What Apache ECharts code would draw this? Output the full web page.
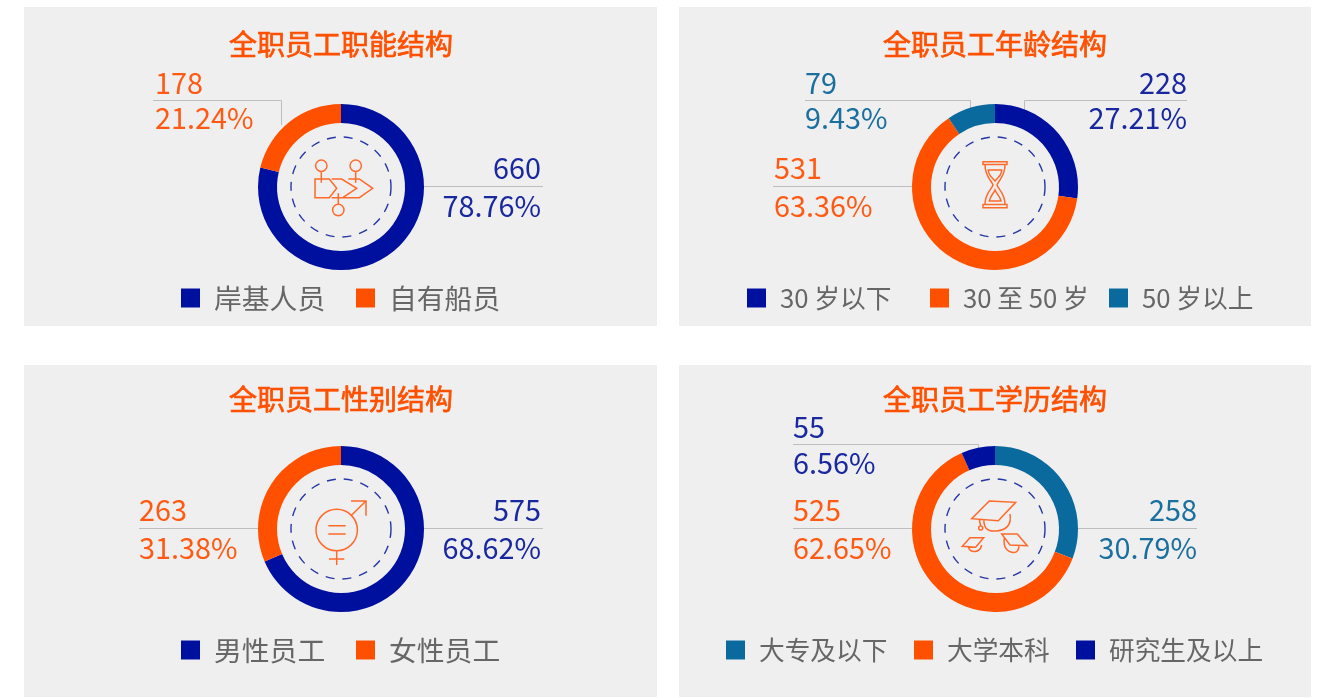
<!DOCTYPE html>
<html>
<head>
<meta charset="utf-8">
<title>全职员工结构</title>
<style>
  html, body { margin: 0; padding: 0; background: #fff; }
  #chart { width: 1325px; height: 698px; }
</style>
<script src="https://cdn.jsdelivr.net/npm/echarts@6/dist/echarts.min.js"></script>
</head>
<body>
<div id="chart"></div>
<script>
// 数据
const titles = ['全职员工职能结构', '全职员工年龄结构', '全职员工性别结构', '全职员工学历结构'];
const roleNames = ['岸基人员', '自有船员'];
const roleValues = [660, 178];
const rolePercents = ['78.76%', '21.24%'];
const ageNames = ['30 岁以下', '30 至 50 岁', '50 岁以上'];
const ageValues = [228, 531, 79];
const agePercents = ['27.21%', '63.36%', '9.43%'];
const genderNames = ['男性员工', '女性员工'];
const genderValues = [575, 263];
const genderPercents = ['68.62%', '31.38%'];
const eduNames = ['大专及以下', '大学本科', '研究生及以上'];
const eduValues = [258, 525, 55];
const eduPercents = ['30.79%', '62.65%', '6.56%'];

// 颜色
const BLUE = '#00109e';
const ORANGE = '#ff5000';
const TEAL = '#0a6a9e';
const BLUE_TEXT = '#1a28a0';
const ORANGE_TEXT = '#ff5a14';
const TEAL_TEXT = '#1a6f9f';
const FONT = '"Noto Sans CJK SC", "Noto Sans", sans-serif';

function circ(cx, cy, r) {
  return `M${cx - r} ${cy}a${r} ${r} 0 1 0 ${2 * r} 0a${r} ${r} 0 1 0 ${-2 * r} 0Z`;
}

// 圆环中间的小图标,坐标相对圆心
const iconFlow = circ(-19.7, -21.3, 5.7) + circ(14.7, -21.3, 5.7) + circ(-2.7, 23, 5.7) +
  'M-26 -8L-11.7 -8L-4.3 1.3L-11.7 10.7L-26 10.7Z' +
  'M-19.7 -15.6L-19.7 -4.3M14.7 -15.6L14.7 -4.3M-2.7 6.3L-2.7 17.3' +
  'M-9.3 -8L0.7 -8L15.7 1.3L1.7 10.7L-9.3 10.7' +
  'M7.3 -8L18.3 -8L31.7 1.3L18.3 10.7L2.3 10.7';
const iconGlass = 'M-12 -25.3L12 -25.3L12 -22.5L-12 -22.5Z M-12 17.5L12 17.5L12 20.8L-12 20.8Z' +
  'M-10 -22.5C-10 -10 -3 -6 -2 -2C-3 2 -10 6 -10 17.5' +
  'M10 -22.5C10 -10 3 -6 2 -2C3 2 10 6 10 17.5' +
  'M-6.7 -17L6.7 -17C6.7 -11 2 -9 0 -6C-2 -9 -6.7 -11 -6.7 -17Z' +
  'M-5.7 14L6 14C5 9 1.5 7 0 3C-1.5 7 -5 9 -5.7 14Z';
const iconGender = circ(-4.3, 1, 20.7) +
  'M-12.7 -3.3L4.7 -3.3M-12.7 5L4.7 5' +
  'M10.7 -14L25 -28M10 -28L25 -28L25 -13.3' +
  'M-4.3 21.7L-4.3 36M-12 30L3.3 30';
const iconCap = 'M-5.7 -28L20.7 -26.7L3.3 -8.3L-23.3 -10.3Z' +
  'M-11.3 -9.5C-11 -2 -9 3 2 2C10 1 17 -3 15 -15' +
  'M-15.7 -9.7L-14.3 -3' + circ(-14.3, -1, 2) +
  'M-25 8.7L-11.3 8.7L-19.3 18.3L-32.7 17.3Z' +
  'M-26.7 18C-25 24.3 -15 24.3 -13.3 16' +
  'M6.7 5L22.3 5L32.3 16.7L15 16Z' +
  'M9.3 9C8 18 12 23 18 23.5C22 24 24 21 24 16.3';

// graphic 组件不能直接用 path,先注册成形状
echarts.graphic.registerShape('iconFlow', echarts.graphic.extendPath(iconFlow));
echarts.graphic.registerShape('iconGlass', echarts.graphic.extendPath(iconGlass));
echarts.graphic.registerShape('iconGender', echarts.graphic.extendPath(iconGender));
echarts.graphic.registerShape('iconCap', echarts.graphic.extendPath(iconCap));

// 四个面板
const panels = [
  {
    rect: [24, 7, 633, 319], cx: 341, cy: 187, legendY: 298, icon: 'iconFlow', titleY: 44,
    title: titles[0], names: roleNames, values: roleValues, percents: rolePercents,
    colors: [BLUE, ORANGE], textColors: [BLUE_TEXT, ORANGE_TEXT],
    labels: [
      { x: 541, y: 187, align: 'right', h: 38 },
      { x: 155, y: 101, align: 'left', h: 35 }
    ],
    lines: [[[424, 186.5], [543, 186.5]], [[153, 100.5], [281.5, 100.5], [281.5, 125]]],
    legendX: [181, 356], legendSize: 27.8
  },
  {
    rect: [679, 7, 632, 319], cx: 995, cy: 187, legendY: 298, icon: 'iconGlass', titleY: 44,
    title: titles[1], names: ageNames, values: ageValues, percents: agePercents,
    colors: [BLUE, ORANGE, TEAL], textColors: [BLUE_TEXT, ORANGE_TEXT, TEAL_TEXT],
    labels: [
      { x: 1187, y: 101, align: 'right', h: 35 },
      { x: 774, y: 187, align: 'left', h: 38 },
      { x: 805, y: 101, align: 'left', h: 35 }
    ],
    lines: [[[1024.5, 110], [1024.5, 100.5], [1187, 100.5]], [[773, 186.5], [913, 186.5]], [[805, 100.5], [970.5, 100.5], [970.5, 110]]],
    legendX: [747, 930, 1109], legendSize: 25.7
  },
  {
    rect: [24, 365, 633, 332], cx: 341, cy: 529, legendY: 650, icon: 'iconGender', titleY: 399,
    title: titles[2], names: genderNames, values: genderValues, percents: genderPercents,
    colors: [BLUE, ORANGE], textColors: [BLUE_TEXT, ORANGE_TEXT],
    labels: [
      { x: 541, y: 529, align: 'right', h: 38 },
      { x: 139, y: 529, align: 'left', h: 38 }
    ],
    lines: [[[424, 528.5], [543, 528.5]], [[139, 528.5], [259, 528.5]]],
    legendX: [181, 356], legendSize: 27.8
  },
  {
    rect: [679, 365, 632, 332], cx: 995, cy: 529, legendY: 650, icon: 'iconCap', titleY: 399,
    title: titles[3], names: eduNames, values: eduValues, percents: eduPercents,
    colors: [TEAL, ORANGE, BLUE], textColors: [TEAL_TEXT, ORANGE_TEXT, BLUE_TEXT],
    labels: [
      { x: 1197, y: 529, align: 'right', h: 38 },
      { x: 793, y: 529, align: 'left', h: 38 },
      { x: 793, y: 445, align: 'left', h: 36 }
    ],
    lines: [[[1078, 528.5], [1197, 528.5]], [[793, 528.5], [913, 528.5]], [[793, 444.5], [978.5, 444.5], [978.5, 450]]],
    legendX: [726, 914, 1076], legendSize: 25.7
  }
];

const series = [];
const legends = [];
const graphics = [];

panels.forEach(function (p) {
  series.push({
    type: 'pie',
    center: [p.cx, p.cy],
    radius: [64, 83],
    startAngle: 90,
    clockwise: true,
    silent: true,
    animation: false,
    avoidLabelOverlap: false,
    labelLine: { show: false },
    labelLayout: function (params) {
      const l = p.labels[params.dataIndex];
      return { x: l.x, y: l.y, align: l.align, verticalAlign: 'middle' };
    },
    data: p.names.map(function (name, i) {
      return {
        name: name,
        value: p.values[i],
        itemStyle: { color: p.colors[i] },
        label: {
          show: true,
          position: 'outside',
          formatter: p.values[i] + '\n' + p.percents[i],
          color: p.textColors[i],
          fontFamily: FONT,
          fontSize: 28.8,
          lineHeight: p.labels[i].h
        }
      };
    })
  });

  // 图例逐项定位,间距不均匀
  p.names.forEach(function (name, i) {
    legends.push({
      left: p.legendX[i],
      top: p.legendY - 20,
      orient: 'horizontal',
      padding: 0,
      itemWidth: 19,
      itemHeight: 19,
      selectedMode: false,
      icon: 'rect',
      data: [name],
      textStyle: {
        color: '#666',
        fontFamily: FONT,
        fontSize: p.legendSize,
        height: 40,
        lineHeight: 40,
        padding: [0, 0, 0, 9]
      }
    });
  });

  graphics.push({
    type: 'rect', z: 0, silent: true,
    shape: { x: p.rect[0], y: p.rect[1], width: p.rect[2], height: p.rect[3] },
    style: { fill: '#efefef' }
  });
  // 标题是中粗,用常规字重加一点描边
  graphics.push({
    type: 'text', z: 10, silent: true,
    x: p.cx, y: p.titleY,
    style: {
      text: p.title, fill: ORANGE, stroke: ORANGE, lineWidth: 0.7, font: '28px ' + FONT,
      textAlign: 'center', textVerticalAlign: 'middle'
    }
  });
  graphics.push({
    type: 'circle', z: 10, silent: true,
    shape: { cx: p.cx, cy: p.cy, r: 50 },
    style: { fill: 'none', stroke: '#2436a6', lineWidth: 1.4, lineDash: [9, 8] }
  });
  graphics.push({
    type: p.icon, z: 10, silent: true,
    x: p.cx, y: p.cy,
    style: { fill: 'none', stroke: '#ff6a2b', lineWidth: 1.5 }
  });
  p.lines.forEach(function (pts) {
    graphics.push({
      type: 'polyline', z: 1, silent: true,
      shape: { points: pts },
      style: { fill: 'none', stroke: '#bdbdbd', lineWidth: 1 }
    });
  });
});

const myChart = echarts.init(document.getElementById('chart'));
myChart.setOption({
  animation: false,
  backgroundColor: '#fff',
  legend: legends,
  graphic: { elements: graphics },
  series: series
});
</script>
</body>
</html>
